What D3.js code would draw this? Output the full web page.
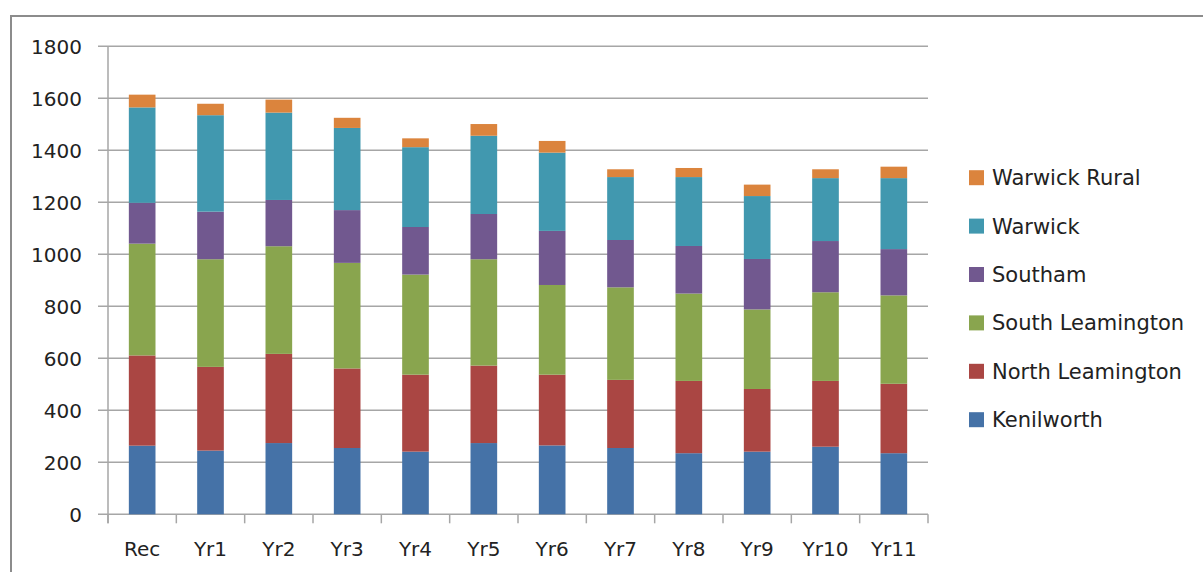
<!DOCTYPE html>
<html lang="en">
<head>
    <meta charset="UTF-8">
    <title>Stacked bars by area</title>
    <script src="https://d3js.org/d3.v7.min.js"></script>
    <style>
        body { margin: 0; background: white; }
        svg text { font-family: "DejaVu Sans", sans-serif; fill: #222; }
        .grid line { stroke: #a6a6a6; stroke-width: 1.5px; }
    </style>
</head>
<body>
<svg id="canvas" width="1203" height="572"></svg>
<script>
    // categories and series
    let years = ["Rec","Yr1","Yr2","Yr3","Yr4","Yr5","Yr6","Yr7","Yr8","Yr9","Yr10","Yr11"];
    let areas = ["Kenilworth","North Leamington","South Leamington","Southam","Warwick","Warwick Rural"];
    let kenilworth      = [264,245,274,255,241,274,265,255,235,241,260,235];
    let northLeamington = [347,322,343,306,296,298,272,262,278,241,253,267];
    let southLeamington = [430,414,414,406,385,409,345,356,336,306,341,340];
    let southam         = [157,183,178,203,183,174,208,182,183,194,197,178];
    let warwick         = [367,371,336,316,307,301,301,242,265,242,242,273];
    let warwickRural    = [ 49, 44, 50, 39, 34, 45, 45, 30, 35, 44, 34, 44];
    let yTicks = [0,200,400,600,800,1000,1200,1400,1600,1800];
    let colours = ["#4572a7","#aa4643","#89a54e","#71588f","#4198af","#db843d"];

    let series = [kenilworth, northLeamington, southLeamington, southam, warwick, warwickRural];
    let rows = years.map(function(y, i){
        let r = {year: y};
        areas.forEach(function(a, j){ r[a] = series[j][i]; });
        return r;
    });

    let svg = d3.select('svg');

    // outer frame
    svg.append('path')
        .attr('d', 'M11,572 V16 H1203')
        .attr('fill', 'none')
        .attr('stroke', '#8c8c8c')
        .attr('stroke-width', 2);

    let plotLeft = 108, plotRight = 928, plotTop = 46.3, plotBottom = 514.3;

    let x = d3.scaleBand().domain(years).range([plotLeft, plotRight]).paddingInner(0.61).paddingOuter(0.305);
    let xb = d3.scaleBand().domain(years).range([plotLeft, plotRight]);
    let y = d3.scaleLinear().domain([0, 1800]).range([plotBottom, plotTop]);
    let colour = d3.scaleOrdinal().domain(areas).range(colours);

    // gridlines
    svg.append('g').attr('class', 'grid')
        .selectAll('line').data(yTicks).enter().append('line')
        .attr('x1', plotLeft - 10).attr('x2', plotRight)
        .attr('y1', d => y(d)).attr('y2', d => y(d));

    // y axis line + labels
    svg.append('line').attr('x1', plotLeft).attr('x2', plotLeft).attr('y1', plotTop).attr('y2', plotBottom + 9)
        .attr('stroke', '#a6a6a6').attr('stroke-width', 1.5);
    svg.append('g').selectAll('text').data(yTicks).enter().append('text')
        .attr('x', 82).attr('y', d => y(d)).attr('dy', '0.36em')
        .attr('text-anchor', 'end').style('font-size', '20px')
        .text(d => d);

    // stacked bars
    let stack = d3.stack().keys(areas)(rows);
    svg.append('g').selectAll('g').data(stack).enter().append('g')
        .attr('fill', d => colour(d.key))
        .selectAll('rect').data(d => d).enter().append('rect')
        .attr('x', d => x(d.data.year))
        .attr('width', x.bandwidth())
        .attr('y', d => y(d[1]))
        .attr('height', d => y(d[0]) - y(d[1]));

    // x ticks at category boundaries
    let bounds = years.map(d => xb(d)).concat([plotRight]);
    svg.append('g').selectAll('line').data(bounds).enter().append('line')
        .attr('x1', d => d).attr('x2', d => d)
        .attr('y1', plotBottom).attr('y2', plotBottom + 9)
        .attr('stroke', '#a6a6a6').attr('stroke-width', 1.5);
    svg.append('g').selectAll('text').data(years).enter().append('text')
        .attr('x', d => xb(d) + xb.bandwidth() / 2).attr('y', 549).attr('dy', '0.36em')
        .attr('text-anchor', 'middle').style('font-size', '20px')
        .text(d => d);

    // legend, top entry is the last series
    let legend = svg.append('g').selectAll('g').data(areas.slice().reverse()).enter().append('g')
        .attr('transform', (d, i) => 'translate(969,' + (177.7 + i * 48.4) + ')');
    legend.append('rect').attr('x', 0).attr('y', -7.5).attr('width', 15).attr('height', 15)
        .attr('fill', d => colour(d));
    legend.append('text').attr('x', 23).attr('y', 0).attr('dy', '0.36em')
        .style('font-size', '21px').text(d => d);
</script>
</body>
</html>
